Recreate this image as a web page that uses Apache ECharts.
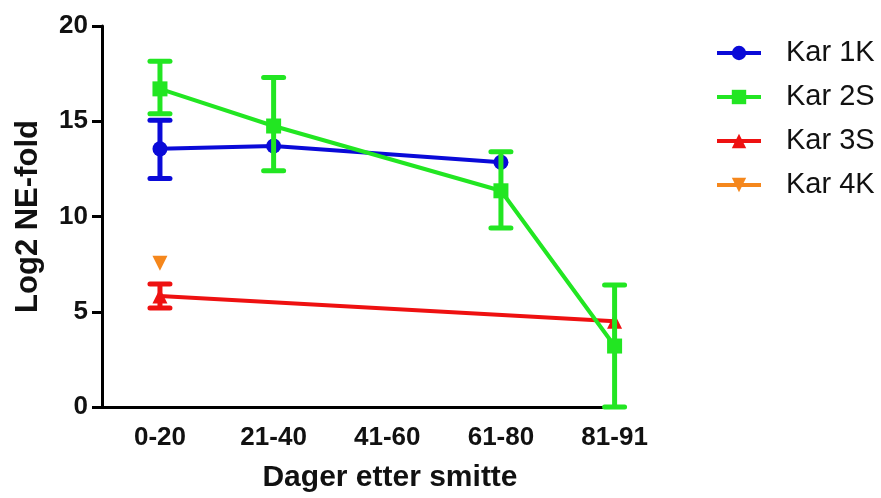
<!DOCTYPE html>
<html>
<head>
<meta charset="utf-8">
<script src="https://cdn.jsdelivr.net/npm/echarts@6/dist/echarts.min.js"></script>
<style>
  html, body { margin: 0; padding: 0; background: #fff; }
  #chart { width: 881px; height: 498px; }
</style>
</head>
<body>
<div id="chart"></div>
<script>
const categories = ['0-20', '21-40', '41-60', '61-80', '81-91'];
const yTicks = [0, 5, 10, 15, 20];
const seriesNames = ['Kar 1K', 'Kar 2S', 'Kar 3S', 'Kar 4K'];

const kar1K     = [13.55, 13.7, null, 12.85, null];
const kar1KLow  = [12.0,  null, null, null,  null];
const kar1KHigh = [15.05, null, null, null,  null];

const kar2S     = [16.7, 14.75, null, 11.35, 3.2];
const kar2SLow  = [15.4, 12.4,  null, 9.4,   0];
const kar2SHigh = [18.15, 17.3, null, 13.4,  6.4];

const kar3S     = [5.83, null, null, null, 4.5];
const kar3SLow  = [5.2,  null, null, null, null];
const kar3SHigh = [6.46, null, null, null, null];

const kar4K     = [7.55, null, null, null, null];

const colors = ['#0a0ad8', '#22e622', '#ee1111', '#f5871c'];
const symbols = ['circle', 'rect', 'triangle', 'triangle'];
const rotates = [0, 0, 0, 180];

function pts(vals) {
  const out = [];
  vals.forEach((v, i) => { if (v !== null) out.push([i, v]); });
  return out;
}
function errs(lows, highs) {
  const out = [];
  lows.forEach((l, i) => { if (l !== null && highs[i] !== null) out.push([i, l, highs[i]]); });
  return out;
}

const values = [kar1K, kar2S, kar3S, kar4K];
const lows = [kar1KLow, kar2SLow, kar3SLow, null];
const highs = [kar1KHigh, kar2SHigh, kar3SHigh, null];
const zs = [2, 5, 3, 4];

const series = [];
values.forEach((vals, k) => {
  series.push({
    name: seriesNames[k],
    type: 'line',
    data: pts(vals),
    symbol: symbols[k],
    symbolRotate: rotates[k],
    symbolSize: 15,
    showSymbol: true,
    color: colors[k],
    lineStyle: { width: 4, color: colors[k] },
    itemStyle: { color: colors[k] },
    z: zs[k],
    clip: false,
    animation: false
  });
  if (lows[k]) {
    series.push({
      type: 'custom',
      data: errs(lows[k], highs[k]),
      z: zs[k],
      clip: false,
      animation: false,
      renderItem: function (params, api) {
        const x = api.value(0);
        const lo = api.coord([x, api.value(1)]);
        const hi = api.coord([x, api.value(2)]);
        const half = 10;
        const style = { stroke: colors[k], lineWidth: 5, lineCap: 'round' };
        return {
          type: 'group',
          children: [
            { type: 'line', shape: { x1: lo[0], y1: lo[1], x2: hi[0], y2: hi[1] }, style: { stroke: colors[k], lineWidth: 5 } },
            { type: 'line', shape: { x1: lo[0] - half, y1: lo[1], x2: lo[0] + half, y2: lo[1] }, style: style },
            { type: 'line', shape: { x1: hi[0] - half, y1: hi[1], x2: hi[0] + half, y2: hi[1] }, style: style }
          ]
        };
      }
    });
  }
});

const chart = echarts.init(document.getElementById('chart'), null, { renderer: 'canvas' });
chart.setOption({
  animation: false,
  backgroundColor: '#ffffff',
  textStyle: { fontFamily: 'Liberation Sans, Arial, sans-serif' },
  grid: { left: 102, right: 263, top: 26, bottom: 88, containLabel: false },
  legend: {
    data: seriesNames,
    orient: 'vertical',
    left: 710,
    top: 33,
    itemWidth: 44,
    itemHeight: 18,
    itemGap: 14,
    lineStyle: { width: 4 },
    textStyle: { fontSize: 29, color: '#111', fontFamily: 'Liberation Sans, Arial, sans-serif', padding: [0, 0, 0, 20], lineHeight: 30 }
  },
  xAxis: {
    type: 'value',
    min: -0.51,
    max: 4.03,
    name: 'Dager etter smitte',
    nameLocation: 'middle',
    nameGap: 56,
    nameTextStyle: { fontSize: 30, fontWeight: 'bold', color: '#111', padding: [0, 0, 0, 60] },
    axisLine: { show: true, lineStyle: { color: '#000', width: 3 } },
    axisTick: { show: false },
    splitLine: { show: false },
    axisLabel: {
      customValues: categories.map((c, i) => i),
      formatter: v => categories[Math.round(v)] || '',
      fontSize: 26, fontWeight: 'bold', color: '#111', margin: 18
    }
  },
  yAxis: {
    type: 'value',
    min: 0,
    max: 20,
    interval: 5,
    name: 'Log2 NE-fold',
    nameLocation: 'middle',
    nameGap: 58,
    nameRotate: 90,
    nameTextStyle: { fontSize: 31, fontWeight: 'bold', color: '#111' },
    axisLine: { show: true, onZero: false, lineStyle: { color: '#000', width: 3 } },
    axisTick: { show: true, length: 10, lineStyle: { color: '#000', width: 3 } },
    splitLine: { show: false },
    axisLabel: {
      customValues: yTicks,
      fontSize: 26, fontWeight: 'bold', color: '#111', margin: 14
    }
  },
  series: series
});
</script>
</body>
</html>
